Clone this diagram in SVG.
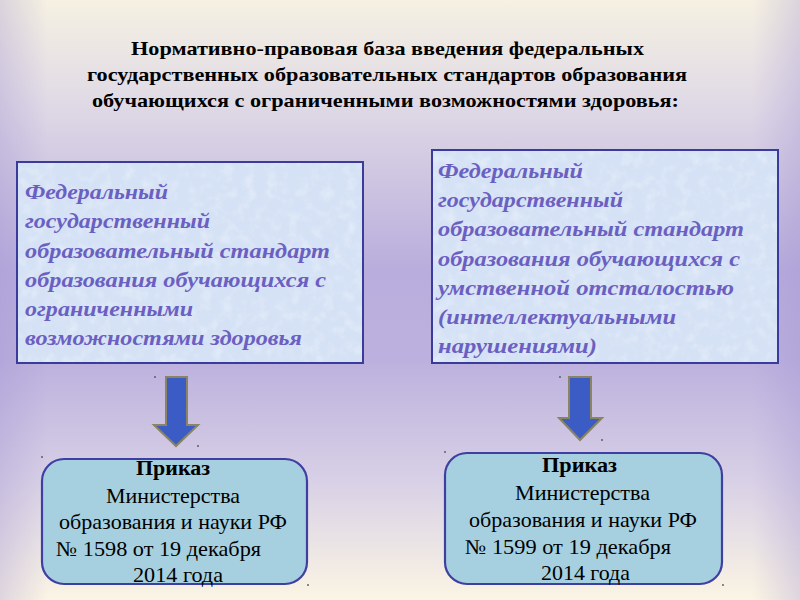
<svg xmlns="http://www.w3.org/2000/svg" width="800" height="600" viewBox="0 0 800 600">
  <defs>
    <linearGradient id="bg" x1="0" y1="0" x2="0" y2="1">
      <stop offset="0" stop-color="#f6f1e2"/>
      <stop offset="0.17" stop-color="#e0dae6"/>
      <stop offset="0.45" stop-color="#b9addd"/>
      <stop offset="0.6" stop-color="#bcb1de"/>
      <stop offset="0.8" stop-color="#d8d0e6"/>
      <stop offset="1" stop-color="#fbf5e4"/>
    </linearGradient>
    <linearGradient id="side" x1="0" y1="0" x2="1" y2="0">
      <stop offset="0" stop-color="#9c8fd0" stop-opacity="0.3"/>
      <stop offset="0.06" stop-color="#9c8fd0" stop-opacity="0"/>
      <stop offset="0.94" stop-color="#9c8fd0" stop-opacity="0"/>
      <stop offset="1" stop-color="#9c8fd0" stop-opacity="0.3"/>
    </linearGradient>
    <filter id="tex" x="0" y="0" width="100%" height="100%">
      <feTurbulence type="fractalNoise" baseFrequency="0.09" numOctaves="3" seed="4" result="n"/>
      <feColorMatrix in="n" type="matrix" values="0 0 0 0 1  0 0 0 0 1  0 0 0 0 1  0 0 0 -2.2 1.2"/>
    </filter>
  </defs>
  <style>
    .title { font-family: "Liberation Serif", "Times New Roman", serif; font-weight: bold; font-size: 19.5px; fill: #000; }
    .std { fill: #d5e2f5; stroke: #3b3b9c; stroke-width: 2; }
    .stdtxt { font-family: "Liberation Serif", "Times New Roman", serif; font-style: italic; font-weight: bold; font-size: 21.5px; fill: #6b60c2; }
    .order { fill: #a6d0e0; stroke: #3f3fa2; stroke-width: 2.2; }
    .ordtxt { font-family: "Liberation Serif", "Times New Roman", serif; font-size: 21px; fill: #000; }
    .bold { font-weight: bold; }
    .arrow { fill: #3b5cc4; stroke: #8a8462; stroke-width: 2; stroke-linejoin: miter; }
    .dot { fill: #555; }
  </style>

  <rect x="0" y="0" width="800" height="600" fill="url(#bg)"/>
  <rect x="0" y="0" width="800" height="600" fill="url(#side)"/>

  <g id="title">
    <text class="title" x="131" y="55" textLength="513" lengthAdjust="spacingAndGlyphs">Нормативно-правовая база введения федеральных</text>
    <text class="title" x="87" y="81" textLength="600" lengthAdjust="spacingAndGlyphs">государственных образовательных стандартов образования</text>
    <text class="title" x="92" y="107" textLength="587" lengthAdjust="spacingAndGlyphs">обучающихся с ограниченными возможностями здоровья:</text>
  </g>

  <g id="std-ovz">
    <rect class="std" x="17" y="162" width="346" height="201"/>
    <rect x="18" y="163" width="344" height="199" filter="url(#tex)" opacity="0.3"/>
    <text class="stdtxt" x="25" y="199" textLength="143" lengthAdjust="spacingAndGlyphs">Федеральный</text>
    <text class="stdtxt" x="25" y="228" textLength="185" lengthAdjust="spacingAndGlyphs">государственный</text>
    <text class="stdtxt" x="25" y="258" textLength="305" lengthAdjust="spacingAndGlyphs">образовательный стандарт</text>
    <text class="stdtxt" x="25" y="287" textLength="301" lengthAdjust="spacingAndGlyphs">образования обучающихся с</text>
    <text class="stdtxt" x="25" y="316" textLength="168" lengthAdjust="spacingAndGlyphs">ограниченными</text>
    <text class="stdtxt" x="25" y="345" textLength="277" lengthAdjust="spacingAndGlyphs">возможностями здоровья</text>
  </g>

  <g id="std-io">
    <rect class="std" x="432" y="150" width="346" height="213"/>
    <rect x="433" y="151" width="344" height="211" filter="url(#tex)" opacity="0.3"/>
    <text class="stdtxt" x="438" y="178" textLength="145" lengthAdjust="spacingAndGlyphs">Федеральный</text>
    <text class="stdtxt" x="438" y="207" textLength="185" lengthAdjust="spacingAndGlyphs">государственный</text>
    <text class="stdtxt" x="438" y="236" textLength="306" lengthAdjust="spacingAndGlyphs">образовательный стандарт</text>
    <text class="stdtxt" x="438" y="266" textLength="302" lengthAdjust="spacingAndGlyphs">образования обучающихся с</text>
    <text class="stdtxt" x="438" y="295" textLength="296" lengthAdjust="spacingAndGlyphs">умственной отсталостью</text>
    <text class="stdtxt" x="438" y="324" textLength="238" lengthAdjust="spacingAndGlyphs">(интеллектуальными</text>
    <text class="stdtxt" x="438" y="353" textLength="159" lengthAdjust="spacingAndGlyphs">нарушениями)</text>
  </g>

  <g id="connectors">
    <path class="arrow" d="M166,377 H187 V425 H198 L176,446 L154,425 H166 Z"/>
    <path class="arrow" d="M569,377 H591 V418 H602 L580,440 L559,418 H569 Z"/>
    <circle class="dot" cx="155" cy="377" r="0.9"/>
    <circle class="dot" cx="198" cy="446" r="0.9"/>
    <circle class="dot" cx="560" cy="377" r="0.9"/>
    <circle class="dot" cx="602" cy="440" r="0.9"/>
  </g>

  <g id="order-1598">
    <rect class="order" x="42" y="459" width="265" height="125" rx="22" ry="22"/>
    <circle class="dot" cx="42" cy="457" r="0.9"/>
    <circle class="dot" cx="308" cy="585" r="0.9"/>
    <text class="ordtxt bold" x="136" y="475" textLength="74" lengthAdjust="spacingAndGlyphs">Приказ</text>
    <text class="ordtxt" x="106" y="503" textLength="134" lengthAdjust="spacingAndGlyphs">Министерства</text>
    <text class="ordtxt" x="59" y="529" textLength="228" lengthAdjust="spacingAndGlyphs">образования и науки РФ</text>
    <text class="ordtxt" x="56" y="556" textLength="205" lengthAdjust="spacingAndGlyphs">№ 1598 от 19 декабря</text>
    <text class="ordtxt" x="133" y="582" textLength="90" lengthAdjust="spacingAndGlyphs">2014 года</text>
  </g>

  <g id="order-1599">
    <rect class="order" x="445" y="453" width="277" height="131" rx="22" ry="22"/>
    <circle class="dot" cx="445" cy="452" r="0.9"/>
    <circle class="dot" cx="723" cy="585" r="0.9"/>
    <text class="ordtxt bold" x="542" y="472" textLength="75" lengthAdjust="spacingAndGlyphs">Приказ</text>
    <text class="ordtxt" x="515" y="500" textLength="135" lengthAdjust="spacingAndGlyphs">Министерства</text>
    <text class="ordtxt" x="469" y="527" textLength="228" lengthAdjust="spacingAndGlyphs">образования и науки РФ</text>
    <text class="ordtxt" x="465" y="554" textLength="206" lengthAdjust="spacingAndGlyphs">№ 1599 от 19 декабря</text>
    <text class="ordtxt" x="541" y="580" textLength="89" lengthAdjust="spacingAndGlyphs">2014 года</text>
  </g>
</svg>
